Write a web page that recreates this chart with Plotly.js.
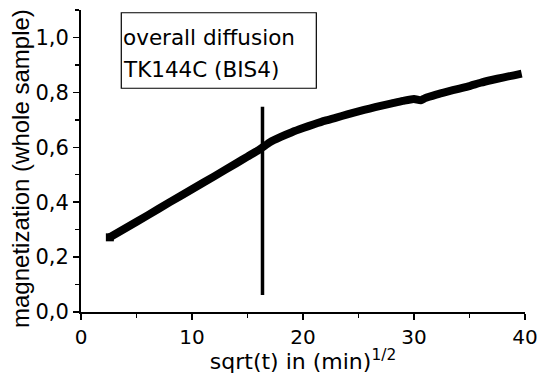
<!DOCTYPE html>
<html>
<head>
<meta charset="utf-8">
<script src="https://cdn.plot.ly/plotly-3.0.1.min.js"></script>
<style>html,body{margin:0;padding:0;background:#fff;}#chart{width:537px;height:374px;}</style>
</head>
<body>
<div id="chart"></div>
<script>
// sqrt(t) in (min)^1/2 and magnetization
const sqrtTime = [2.6, 4, 6, 8, 10, 12, 14, 15, 16, 16.3, 17, 18, 19, 20, 21, 22, 23, 24, 25, 26, 27, 28, 29, 30, 30.6, 31, 32, 33, 34, 35, 36, 37, 38, 39, 39.7];
const magnetization = [0.272, 0.305, 0.352, 0.400, 0.447, 0.494, 0.542, 0.566, 0.590, 0.598, 0.618, 0.638, 0.655, 0.670, 0.684, 0.697, 0.708, 0.720, 0.731, 0.741, 0.751, 0.760, 0.769, 0.776, 0.771, 0.779, 0.792, 0.803, 0.813, 0.823, 0.835, 0.845, 0.854, 0.862, 0.868];
// vertical marker line
const markerX = [16.35, 16.35];
const markerY = [0.062, 0.748];
const boxLines = ["overall diffusion", "TK144C (BIS4)"];
const xTitle = "sqrt(t) in (min)<sup>1/2</sup>";
const yTitle = "magnetization (whole sample)";

const WIDE = "DejaVu Sans, Verdana, sans-serif";
const NARROW = "Liberation Sans, Arial, sans-serif";

const traces = [
  {x: sqrtTime, y: magnetization, mode: "lines", line: {color: "#000", width: 8, shape: "spline", smoothing: 0.6}, hoverinfo: "skip"},
  {x: [sqrtTime[0]], y: [magnetization[0]], mode: "markers", marker: {symbol: "square", size: 8, color: "#000"}, hoverinfo: "skip"},
  {x: markerX, y: markerY, mode: "lines", line: {color: "#000", width: 3.5}, hoverinfo: "skip"}
];

const layout = {
  width: 537, height: 374,
  margin: {l: 81, r: 12, t: 10, b: 62},
  paper_bgcolor: "#fff", plot_bgcolor: "#fff",
  separators: ",.",
  showlegend: false,
  font: {family: WIDE, color: "#000", size: 21},
  xaxis: {
    range: [0, 40], dtick: 10, tick0: 0,
    showline: true, linecolor: "#000", linewidth: 2,
    ticks: "outside", ticklen: 6, tickwidth: 1.5, tickcolor: "#000",
    minor: {dtick: 5, ticks: "outside", ticklen: 4, tickwidth: 1.5, tickcolor: "#000"},
    showgrid: false, zeroline: false, automargin: false,
    ticklabeloverflow: "allow",
    tickfont: {family: WIDE, size: 20},
    title: {text: xTitle, font: {family: WIDE, size: 22}, standoff: 3}
  },
  yaxis: {
    range: [0, 1.1], dtick: 0.2, tick0: 0, tickformat: ".1f",
    showline: true, linecolor: "#000", linewidth: 2,
    ticks: "outside", ticklen: 6, tickwidth: 1.5, tickcolor: "#000",
    minor: {dtick: 0.1, ticks: "outside", ticklen: 4, tickwidth: 1.5, tickcolor: "#000"},
    showgrid: false, zeroline: false, automargin: false,
    ticklabeloverflow: "allow",
    tickfont: {family: WIDE, size: 21}
  },
  shapes: [
    {type: "rect", xref: "x", yref: "y", x0: 3.63, x1: 21.2, y0: 0.815, y1: 1.09, line: {color: "#000", width: 1.2}, fillcolor: "rgba(0,0,0,0)"}
  ],
  annotations: [
    {xref: "x", yref: "y", x: 3.6, y: 1.0, xanchor: "left", yanchor: "middle", text: boxLines[0], showarrow: false, font: {family: WIDE, size: 21.5}},
    {xref: "x", yref: "y", x: 3.6, y: 0.882, xanchor: "left", yanchor: "middle", text: boxLines[1], showarrow: false, font: {family: WIDE, size: 21.5}},
    {xref: "paper", yref: "paper", x: 0, y: 0.5, xanchor: "center", yanchor: "middle", xshift: -61, yshift: -8, textangle: -90, text: yTitle, showarrow: false, font: {family: NARROW, size: 24}}
  ]
};

Plotly.newPlot("chart", traces, layout, {displayModeBar: false, staticPlot: true});
</script>
</body>
</html>
